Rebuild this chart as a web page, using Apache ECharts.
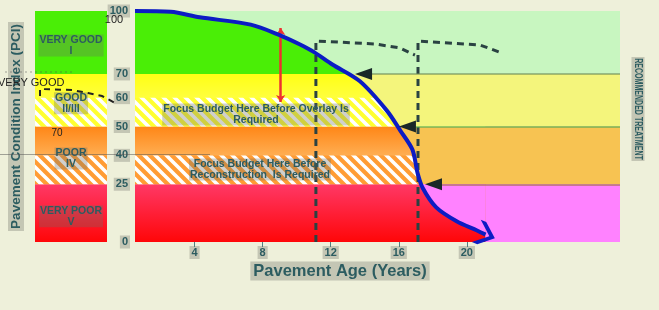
<!DOCTYPE html>
<html><head><meta charset="utf-8">
<script src="https://cdn.jsdelivr.net/npm/echarts@6/dist/echarts.min.js"></script>
<style>html,body{margin:0;padding:0;background:#eef0da;}#c{width:659px;height:310px;}</style>
</head><body><div id="c"></div>
<script>
// ---------------- data ----------------
const pciTicks   = [0, 25, 40, 50, 60, 70, 100];
const tickLabels = ['0', '25', '40', '50', '60', '70', '100'];
const ageTicks   = [4, 8, 12, 16, 20];
const curveAge = [0.5, 2.6, 4.3, 7.3, 9.0, 10.2, 11.0, 12.1, 13.7, 15.3, 16.1, 16.8, 17.1, 17.4, 18.2, 19.4, 20.6, 21.1];
const curvePCI = [100, 99.6, 97, 93.5, 88.5, 84, 80.5, 74.5, 67, 55.5, 48.5, 42, 31, 23.5, 15, 9, 5, 3.2];
const conditionNames = ['VERY GOOD\nI', 'GOOD\nII/III', 'POOR\nIV', 'VERY POOR\nV'];
const conditionLow  = [70, 50, 25, 0];
const conditionHigh = [100, 70, 50, 25];
const hatchLow  = [50, 25];
const hatchHigh = [60, 40];
const markerAge = [13.93, 16.51, 18.04];
const markerPCI = [70, 50, 25];
const dropAge = [9.06, 9.06];
const dropPCI = [58.5, 91.9];
const bracket1Age = [11.13, 11.13, 14.6, 16.07, 16.95];
const bracket1PCI = [0, 85.7, 84.3, 82.4, 79];
const bracket2Age = [17.13, 17.13, 20.77, 22.06];
const bracket2PCI = [0, 85.7, 83.8, 80];

// ---------------- scale (hand-drawn, uneven PCI spacing) ----------------
const axisPos = [0, 2, 3, 4, 5, 5.82, 8];
function toAxis(p) {
  for (let i = 1; i < pciTicks.length; i++) {
    if (p <= pciTicks[i]) {
      const t = (p - pciTicks[i - 1]) / (pciTicks[i] - pciTicks[i - 1]);
      return axisPos[i - 1] + t * (axisPos[i] - axisPos[i - 1]);
    }
  }
  return axisPos[axisPos.length - 1];
}
const X_MIN = 0.5, X_MAX = 29;
const curveEnd = curveAge[curveAge.length - 1];

// ---------------- styles ----------------
const FONT = "'Liberation Sans', Arial, sans-serif";
const TEAL = '#2c5c60';
const BOX = 'rgba(110,110,100,0.32)';
function grad(stops) { return { type: 'linear', x: 0, y: 0, x2: 0, y2: 1, colorStops: stops.map(c => ({ offset: c[0], color: c[1] })) }; }
function hatch(base, stripe, size, w) {
  const c = document.createElement('canvas'); c.width = c.height = size;
  const g = c.getContext('2d'); g.fillStyle = base; g.fillRect(0, 0, size, size);
  g.strokeStyle = stripe; g.lineWidth = w; g.beginPath();
  for (const o of [-size, 0, size]) { g.moveTo(o - 3, -3); g.lineTo(o + size + 3, size + 3); }
  g.stroke();
  return { image: c, repeat: 'repeat' };
}
const intenseColors = [
  '#4aee06',
  grad([[0, '#ffff14'], [1, '#ffff70']]),
  grad([[0, '#ff8616'], [0.5, '#ffae52'], [1, '#ffae52']]),
  grad([[0, '#ff3866'], [1, '#ff0608']])
];
const hatchColors = [hatch('#ffff30', '#ffffff', 11, 3.6), hatch('#ff9c34', '#ffffff', 11, 3.6)];
const lightColors = ['#c8f6c0', '#f4f57c', '#f7c352', '#ff82ff'];
const boundaryColors = ['rgba(110,140,90,0.75)', 'rgba(80,170,80,0.75)', 'rgba(150,110,50,0.7)'];

function bandArea(x0, x1, lo, hi, color, label) {
  const a = { yAxis: toAxis(hi), xAxis: x0, itemStyle: { color: color } };
  if (label) a.name = label;
  return [a, { yAxis: toAxis(lo), xAxis: x1 }];
}

const mainAreas = [];
conditionLow.forEach((lo, i) => mainAreas.push(bandArea(X_MIN, curveEnd, lo, conditionHigh[i], intenseColors[i])));
hatchLow.forEach((lo, i) => mainAreas.push(bandArea(X_MIN, curveEnd, lo, hatchHigh[i], hatchColors[i])));
conditionLow.forEach((lo, i) => mainAreas.push(bandArea(lo > 0 ? curveEnd - 0.4 : curveEnd, X_MAX, lo, conditionHigh[i], lightColors[i])));

const panelAreas = [];
conditionLow.forEach((lo, i) => panelAreas.push(bandArea(0, 1, lo, conditionHigh[i], intenseColors[i])));
hatchLow.forEach((lo, i) => panelAreas.push(bandArea(0, 1, lo, hatchHigh[i], hatchColors[i])));
conditionLow.forEach((lo, i) => panelAreas.push(bandArea(0, 1, lo, conditionHigh[i], 'rgba(0,0,0,0)', conditionNames[i])));

const boundaryLines = markerPCI.map((p, i) => [
  { xAxis: markerAge[i], yAxis: toAxis(p), lineStyle: { color: boundaryColors[i] } },
  { xAxis: X_MAX, yAxis: toAxis(p) }
]);

const curveData = curveAge.map((a, i) => [a, toAxis(curvePCI[i])]);

const chart = echarts.init(document.getElementById('c'), null, { renderer: 'canvas' });
chart.setOption({
  backgroundColor: '#eef0da',
  animation: false,
  grid: [
    { left: 135, right: 39, top: 11, bottom: 68, containLabel: false, outerBoundsMode: 'none' },
    { left: 35, width: 72, top: 11, bottom: 68, containLabel: false, outerBoundsMode: 'none' }
  ],
  xAxis: [
    { type: 'value', min: X_MIN, max: X_MAX, gridIndex: 0,
      axisLine: { show: false }, splitLine: { show: false },
      axisTick: { show: true, length: 5, lineStyle: { color: '#4f7f80' }, customValues: ageTicks },
      axisLabel: { customValues: ageTicks, color: TEAL, fontWeight: 'bold', fontSize: 11, fontFamily: FONT,
        backgroundColor: BOX, padding: [1, 2], margin: 4 } },
    { type: 'value', min: 0, max: 1, gridIndex: 1, show: false }
  ],
  yAxis: [
    { type: 'value', min: 0, max: 8, gridIndex: 0,
      name: 'Pavement Condition Index (PCI)', nameLocation: 'middle', nameRotate: 90, nameGap: 111,
      nameTextStyle: { color: TEAL, fontWeight: 'bold', fontSize: 13.5, fontFamily: FONT, backgroundColor: BOX, padding: [1, 2] },
      axisLine: { show: false }, axisTick: { show: false }, splitLine: { show: false },
      axisLabel: { customValues: axisPos, color: TEAL, fontWeight: 'bold', fontSize: 11, fontFamily: FONT,
        backgroundColor: BOX, padding: [1, 2], margin: 5,
        formatter: v => { const i = axisPos.findIndex(p => Math.abs(p - v) < 1e-6); return i >= 0 ? tickLabels[i] : ''; } } },
    { type: 'value', min: 0, max: 8, gridIndex: 1, show: false }
  ],
  visualMap: {
    show: false, type: 'piecewise', seriesIndex: 1, dimension: 1,
    pieces: [
      { gte: toAxis(70), lte: 8.5, color: lightColors[0] },
      { gte: toAxis(50), lt: toAxis(70), color: lightColors[1] },
      { gte: toAxis(25), lt: toAxis(50), color: lightColors[2] },
      { gte: -1, lt: toAxis(25), color: lightColors[3] }
    ]
  },
  series: [
    { type: 'line', data: [], xAxisIndex: 0, yAxisIndex: 0, silent: true,
      markArea: { silent: true, z: 1, label: { show: false }, data: mainAreas } },
    { type: 'line', data: curveData, smooth: 0.3, symbol: 'none', z: 2, silent: true,
      lineStyle: { width: 0, opacity: 0 }, areaStyle: { origin: 'end', opacity: 1 } },
    { type: 'line', data: [], silent: true, z: 3,
      markLine: { silent: true, symbol: 'none', label: { show: false }, lineStyle: { type: 'solid', width: 1.5 }, data: boundaryLines } },
    { type: 'line', data: bracket1Age.map((a, i) => [a, toAxis(bracket1PCI[i])]), symbol: 'none', z: 3,
      lineStyle: { color: '#2a4242', width: 3, type: [7, 5] } },
    { type: 'line', data: bracket2Age.map((a, i) => [a, toAxis(bracket2PCI[i])]), symbol: 'none', z: 3,
      lineStyle: { color: '#2a4242', width: 3, type: [7, 5] } },
    { type: 'lines', coordinateSystem: 'cartesian2d', z: 4, symbol: ['arrow', 'arrow'], symbolSize: 7,
      lineStyle: { color: '#ee3030', width: 2.5, opacity: 1 },
      data: [{ coords: dropAge.map((a, i) => [a, toAxis(dropPCI[i])]) }] },
    { type: 'line', data: curveData, smooth: 0.3, symbol: 'none', z: 5,
      lineStyle: { color: '#0c1cc4', width: 4 } },
    { type: 'scatter', z: 6, data: [curveData[curveData.length - 1]],
      symbol: 'path://M0,0 L5,0 L17,9 L5,18 L0,18 L12,9 Z', symbolSize: [20, 24], symbolRotate: -22,
      itemStyle: { color: '#0c1cc4', opacity: 1 } },
    { type: 'scatter', z: 6, data: markerAge.map((a, i) => [a, toAxis(markerPCI[i])]),
      symbol: 'triangle', symbolRotate: 90, symbolSize: [12, 17], itemStyle: { color: '#1a2828', opacity: 1 } },
    { type: 'line', data: [], xAxisIndex: 1, yAxisIndex: 1, silent: true,
      markArea: { silent: true, z: 1,
        label: { show: true, position: 'inside', offset: [0, 3], color: TEAL, fontWeight: 'bold', fontSize: 10.5, fontFamily: FONT,
          lineHeight: 11, backgroundColor: BOX, padding: [0, 1] },
        data: panelAreas } }
  ],
  graphic: [
    { type: 'text', x: 340, y: 271, z: 100, style: { text: 'Pavement Age (Years)', fill: TEAL, font: 'bold 16.5px ' + FONT,
      align: 'center', verticalAlign: 'middle', backgroundColor: BOX, padding: [1, 3] } },
    { type: 'text', x: 638, y: 109, rotation: -Math.PI / 2, scaleX: 0.64, z: 100, style: { text: 'RECOMMENDED TREATMENT', fill: TEAL,
      font: 'bold 11px ' + FONT, align: 'center', verticalAlign: 'middle',
      backgroundColor: BOX, padding: [1, 2] } },
    { type: 'text', x: 256, y: 114.5, z: 100, style: { text: 'Focus Budget Here Before Overlay Is\nRequired', fill: TEAL,
      font: 'bold 10.5px ' + FONT, lineHeight: 11, align: 'center', verticalAlign: 'middle', backgroundColor: BOX, padding: [0, 1] } },
    { type: 'text', x: 260, y: 169.5, z: 100, style: { text: 'Focus Budget Here Before\nReconstruction  Is Required', fill: TEAL,
      font: 'bold 10.5px ' + FONT, lineHeight: 11, align: 'center', verticalAlign: 'middle', backgroundColor: BOX, padding: [0, 1] } },
    { type: 'text', x: -2, y: 83, z: 100, style: { text: 'VERY GOOD', fill: '#222', font: '11px ' + FONT, align: 'left', verticalAlign: 'middle' } },
    { type: 'text', x: 114, y: 20, z: 100, style: { text: '100', fill: '#222', font: '11px ' + FONT, align: 'center', verticalAlign: 'middle' } },
    { type: 'text', x: 57, y: 133, z: 100, style: { text: '70', fill: '#222', font: '10px ' + FONT, align: 'center', verticalAlign: 'middle' } },
    { type: 'polyline', z: 100, shape: { points: [[40, 96], [40, 89], [72, 90], [88, 93], [102, 96], [117, 104]] },
      style: { stroke: '#222', lineWidth: 2, lineDash: [6, 5], fill: null } },
    { type: 'line', z: 100, shape: { x1: 0, y1: 154.5, x2: 210, y2: 154.5 }, style: { stroke: 'rgba(80,80,80,0.5)', lineWidth: 1 } },
    { type: 'line', z: 100, shape: { x1: 5, y1: 72, x2: 72, y2: 72 }, style: { stroke: 'rgba(80,80,80,0.5)', lineWidth: 1, lineDash: [2, 3] } }
  ]
});
</script></body></html>
